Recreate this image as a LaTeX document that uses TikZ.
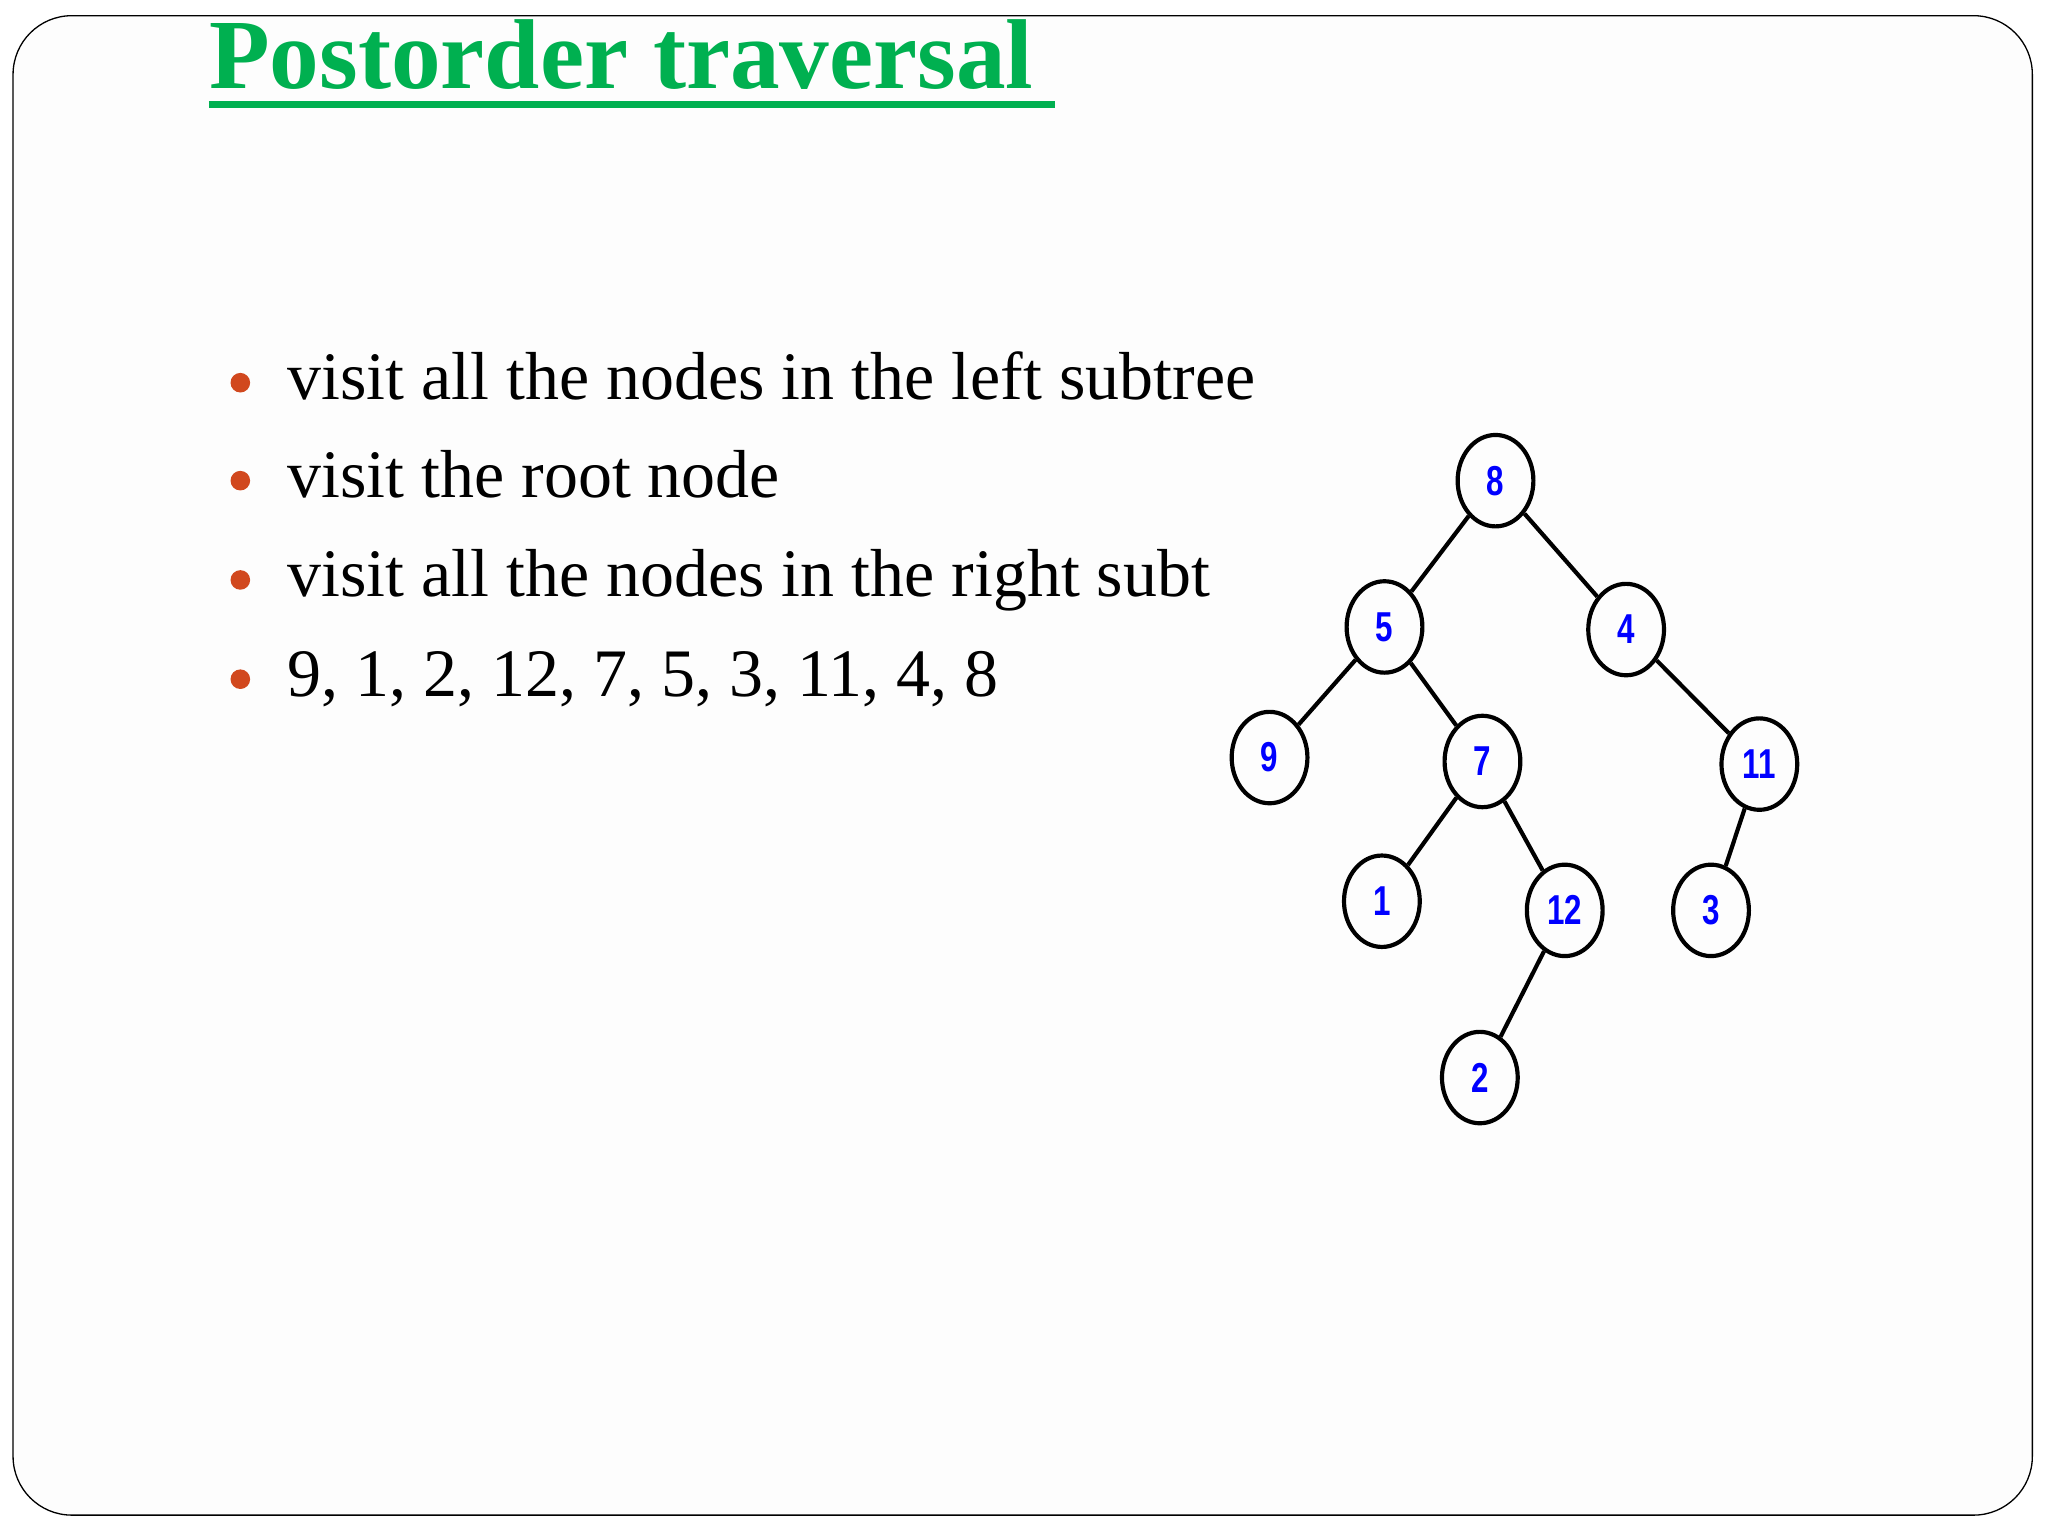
\documentclass[tikz,border=0pt]{standalone}
\usepackage{fontspec}
\setmainfont{Liberation Serif}
\newfontfamily\lblfont{Liberation Sans}
\usetikzlibrary{shapes.geometric}
\definecolor{ttlgreen}{RGB}{0,176,80}
\definecolor{bul}{RGB}{209,72,30}
\begin{document}
\begin{tikzpicture}[x=1pt,y=-1pt,
  tn/.style={ellipse,draw=black,line width=3.2pt,minimum width=58pt,minimum height=70pt,inner sep=0pt,
    font=\fontsize{32}{34}\selectfont\lblfont\bfseries,text=blue},
  ed/.style={line width=3.2pt},
  bt/.style={anchor=base west,font=\fontsize{52}{54}\selectfont}]
\useasboundingbox (0,0) rectangle (1568,1176);
\fill[white] (0,0) rectangle (1568,1176);
\draw[line width=1pt,rounded corners=45pt,fill={rgb,255:red,253;green,253;blue,253}] (10,12) rectangle (1556,1160);
\node[anchor=base west,inner sep=0pt,text=ttlgreen,font=\fontsize{76}{80}\selectfont\bfseries] (title) at (160,68) {Postorder traversal};
\draw[ttlgreen,line width=5pt] (160,80) -- (808,80);
\foreach \y/\t [count=\i] in {306/visit all the nodes in the left subtree,381/visit the root node,457/visit all the nodes in the right subt,533/{9, 1, 2, 12, 7, 5, 3, 11, 4, 8}}{
  \fill[bul] (184,\y-13) circle (7.5pt);
  \node[bt,inner sep=0pt] (b\i) at (220,\y) {\t};
}
\node[tn] (n8) at (1145,368) {\scalebox{0.75}[1]{8}};
\node[tn] (n5) at (1060,480) {\scalebox{0.75}[1]{5}};
\node[tn] (n4) at (1245,482) {\scalebox{0.75}[1]{4}};
\node[tn] (n9) at (972,580) {\scalebox{0.75}[1]{9}};
\node[tn] (n7) at (1135,583) {\scalebox{0.75}[1]{7}};
\node[tn] (n11) at (1347,585) {\scalebox{0.75}[1]{11}};
\node[tn] (n1) at (1058,690) {\scalebox{0.75}[1]{1}};
\node[tn] (n12) at (1198,697) {\scalebox{0.75}[1]{12}};
\node[tn] (n3) at (1310,697) {\scalebox{0.75}[1]{3}};
\node[tn] (n2) at (1133,825) {\scalebox{0.75}[1]{2}};
\foreach \a/\b in {n8/n5,n8/n4,n5/n9,n5/n7,n4/n11,n7/n1,n7/n12,n11/n3,n12/n2}
  \draw[ed] (\a) -- (\b);
\end{tikzpicture}
\end{document}
